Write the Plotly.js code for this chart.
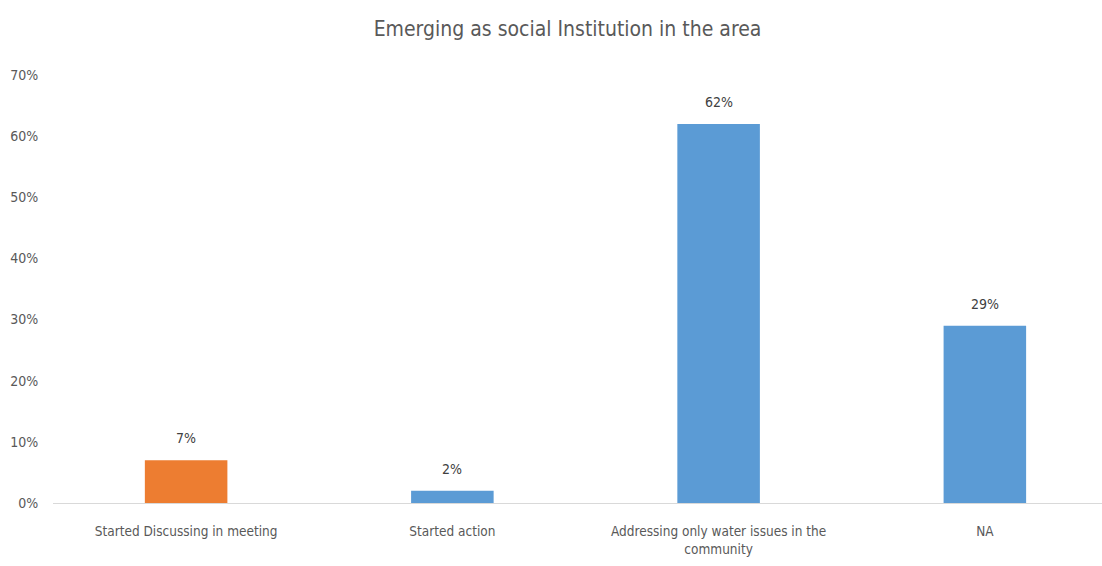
<!DOCTYPE html>
<html><head><meta charset="utf-8">
<script src="https://cdn.plot.ly/plotly-3.0.1.min.js"></script>
<style>html,body{margin:0;padding:0;background:#fff}#chart{width:1102px;height:566px}</style>
</head><body><div id="chart"></div>
<script>
var categories = ["Started Discussing in meeting", "Started action", "Addressing only water issues in the<br>community", "NA"];
var values = [0.07, 0.02, 0.62, 0.29];
var barColors = ["#ED7D31", "#5B9BD5", "#5B9BD5", "#5B9BD5"];
var yTickVals = [0, 0.1, 0.2, 0.3, 0.4, 0.5, 0.6, 0.7];
var yTickText = ["0%", "10%", "20%", "30%", "40%", "50%", "60%", "70%"];
var labelText = values.map(function(v){ return Math.round(v*100) + "%"; });

var FONT = "'Liberation Sans Narrow', 'DejaVu Sans Condensed', 'Open Sans', sans-serif";
var annotations = categories.map(function(c, i){
  return {x: c, y: values[i], text: labelText[i], showarrow: false, yanchor: "bottom", yshift: 12,
          font: {family: FONT, size: 14, color: "#404040"}};
});

var trace = {type: "bar", x: categories, y: values, width: 0.31,
  marker: {color: barColors}, hoverinfo: "none"};

var layout = {
  width: 1102, height: 566,
  margin: {l: 53, r: 0, t: 75, b: 63},
  paper_bgcolor: "#fff", plot_bgcolor: "#fff",
  title: {text: "Emerging as social Institution in the area", x: 0.515, xanchor: "center", y: 0.95, yanchor: "middle",
          font: {family: FONT, size: 21, color: "#595959"}},
  xaxis: {range: [-0.5, 3.44], showgrid: false, zeroline: false, showline: true, linecolor: "#D9D9D9", linewidth: 1,
          ticks: "", ticklabelstandoff: 16, tickfont: {family: FONT, size: 13.5, color: "#595959"}, fixedrange: true},
  yaxis: {range: [0, 0.7], tickvals: yTickVals, ticktext: yTickText, showgrid: false, zeroline: false, showline: false,
          ticks: "outside", ticklen: 11, tickcolor: "rgba(0,0,0,0)",
          tickfont: {family: FONT, size: 14, color: "#595959"}, fixedrange: true},
  annotations: annotations,
  showlegend: false, bargap: 0.69
};
Plotly.newPlot("chart", [trace], layout, {displayModeBar: false, staticPlot: true});
</script></body></html>
